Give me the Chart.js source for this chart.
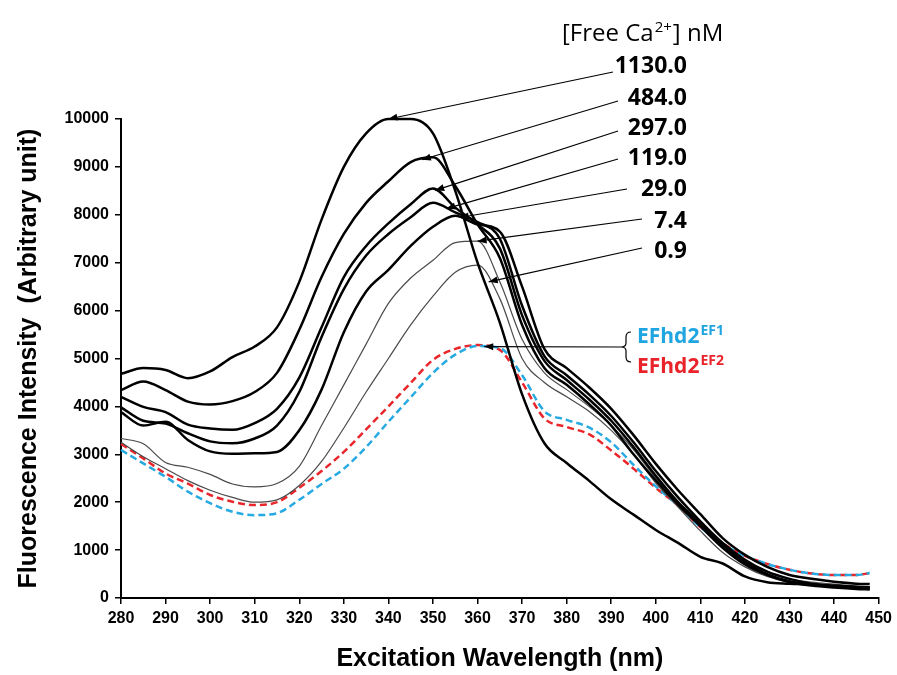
<!DOCTYPE html>
<html>
<head>
<meta charset="utf-8">
<script src="https://cdn.jsdelivr.net/npm/chart.js@4.4.1/dist/chart.umd.min.js"></script>
<style>
  html, body { margin: 0; padding: 0; background: #fff; }
  #wrap { width: 897px; height: 675px; }
</style>
</head>
<body>
<div id="wrap"><canvas id="chart" width="897" height="675"></canvas></div>
<script>
// excitation wavelength (nm)
const wavelengths = [280,285,290,295,300,305,310,315,320,325,330,335,340,345,350,355,360,365,370,375,380,385,390,395,400,405,410,415,420,425,430,435,440,445,448];

// fluorescence intensity per free Ca2+ concentration
const ca1130 = [4680,4800,4760,4590,4730,5030,5250,5650,6600,7900,9000,9700,10000,10000,9700,8500,7000,5750,4250,3230,2820,2450,2060,1740,1420,1150,860,720,450,330,300,280,250,230,220];
const ca484  = [4340,4520,4340,4100,4040,4110,4300,4700,5600,6700,7600,8250,8700,9100,9200,8600,7800,7100,5700,4800,4450,4050,3600,3000,2450,1950,1500,1050,700,480,330,260,220,190,180];
const ca297  = [4200,3990,3880,3620,3540,3510,3650,3950,4600,5650,6700,7350,7820,8220,8550,8150,7800,7300,5900,4950,4550,4150,3700,3150,2550,2000,1550,1100,750,500,350,280,240,210,200];
const ca119  = [3980,3700,3640,3440,3270,3230,3330,3600,4300,5450,6450,7150,7600,7950,8250,8050,7850,7500,6100,5050,4650,4250,3800,3250,2650,2100,1600,1150,800,550,400,300,260,230,220];
const ca29   = [3880,3600,3680,3300,3060,3010,3020,3050,3500,4350,5550,6400,6850,7350,7750,7980,7800,7650,6500,5200,4800,4400,3950,3400,2800,2250,1750,1250,900,650,480,400,340,300,290];
const ca7_4  = [3330,3220,2830,2730,2580,2380,2320,2390,2750,3600,4450,5300,6150,6680,7050,7420,7450,6600,5400,4700,4350,4000,3600,3100,2500,2000,1500,1050,750,550,400,330,290,250,240];
const ca0_9  = [3250,2950,2700,2450,2250,2100,2000,2050,2350,2850,3550,4300,5000,5700,6300,6800,6950,6250,5000,4500,4200,3900,3500,3000,2400,1900,1400,950,650,450,330,270,230,200,190];
const efhd2Ef1 = [3090,2810,2530,2220,1980,1800,1730,1770,2050,2380,2700,3150,3680,4190,4700,5080,5260,5220,4650,3900,3720,3560,3250,2780,2330,1930,1480,1120,880,710,590,510,480,480,520];
const efhd2Ef2 = [3215,2915,2600,2390,2150,2010,1940,2000,2300,2650,3050,3520,4000,4490,4970,5200,5280,5180,4500,3750,3570,3420,3080,2700,2300,1930,1480,1140,880,710,590,510,480,480,520];

const caLabels = ["1130.0","484.0","297.0","119.0","29.0","7.4","0.9"];
const caSeries = [ca1130, ca484, ca297, ca119, ca29, ca7_4, ca0_9];
// wavelength each arrow points at on its curve
const arrowNm = [340, 347.5, 350.5, 353, 356, 360, 362.5];

const xTicks = { min: 280, max: 450, step: 10 };
const yTicks = { min: 0, max: 10000, step: 1000 };

const toPoints = arr => arr.map((v, i) => ({ x: wavelengths[i], y: v }));

function valueAt(arr, nm) {
  for (let i = 0; i < wavelengths.length - 1; i++) {
    const a = wavelengths[i], b = wavelengths[i + 1];
    if (nm >= a && nm <= b) return arr[i] + (arr[i + 1] - arr[i]) * (nm - a) / (b - a);
  }
  return arr[arr.length - 1];
}

const FONT = "'Liberation Sans', Arial, sans-serif";
const LABEL_FONT = "'Open Sans', 'Noto Sans', sans-serif";

const datasets = caSeries.map((arr, i) => ({
  label: caLabels[i],
  data: toPoints(arr),
  borderColor: i >= 5 ? "#4a4a4a" : "#000",
  borderWidth: i >= 5 ? 1.2 : 2.5,
  pointRadius: 0,
  cubicInterpolationMode: "monotone",
  clip: false
}));
datasets.push({
  label: "EFhd2 EF1", data: toPoints(efhd2Ef1), borderColor: "#27a9e1", borderWidth: 2.5,
  borderDash: [7, 4], pointRadius: 0, cubicInterpolationMode: "monotone", clip: false
});
datasets.push({
  label: "EFhd2 EF2", data: toPoints(efhd2Ef2), borderColor: "#e8262b", borderWidth: 2.5,
  borderDash: [7, 4], pointRadius: 0, cubicInterpolationMode: "monotone", clip: false
});

function arrow(ctx, x1, y1, x2, y2) {
  ctx.beginPath();
  ctx.moveTo(x1, y1);
  ctx.lineTo(x2, y2);
  ctx.stroke();
  const ang = Math.atan2(y2 - y1, x2 - x1);
  const len = 9, half = 3.5;
  ctx.beginPath();
  ctx.moveTo(x2, y2);
  ctx.lineTo(x2 - len * Math.cos(ang) + half * Math.sin(ang), y2 - len * Math.sin(ang) - half * Math.cos(ang));
  ctx.lineTo(x2 - len * Math.cos(ang) - half * Math.sin(ang), y2 - len * Math.sin(ang) + half * Math.cos(ang));
  ctx.closePath();
  ctx.fill();
}

function textWithSup(ctx, base, sup, x, y, size, supSize, weight, color) {
  ctx.fillStyle = color;
  ctx.textAlign = "left";
  ctx.textBaseline = "alphabetic";
  ctx.font = `${weight} ${size}px ${LABEL_FONT}`;
  ctx.fillText(base, x, y);
  const w = ctx.measureText(base).width;
  ctx.font = `${weight} ${supSize}px ${LABEL_FONT}`;
  ctx.fillText(sup, x + w + 1, y - size * 0.36);
  return x + w + 1 + ctx.measureText(sup).width;
}

const annotations = {
  id: "annotations",
  afterDatasetsDraw(chart) {
    const { ctx, scales: { x, y } } = chart;
    ctx.save();

    // header
    let hx = textWithSup(ctx, "[Free Ca", "2+", 562, 41, 24, 15, "normal", "#000");
    ctx.font = `normal 24px ${LABEL_FONT}`;
    ctx.fillText("] nM", hx + 1, 41);

    // concentration labels and leader arrows
    const anchors = [[613, 72], [618, 101], [618, 131], [618, 159], [627, 189], [642, 219], [642, 248]];
    const textY = [73, 105, 135, 165, 196, 228, 258];
    ctx.strokeStyle = "#000";
    ctx.fillStyle = "#000";
    ctx.lineWidth = 1.2;
    caSeries.forEach((arr, i) => {
      const tx = x.getPixelForValue(arrowNm[i]);
      const ty = y.getPixelForValue(valueAt(arr, arrowNm[i]));
      arrow(ctx, anchors[i][0], anchors[i][1], tx, ty);
      ctx.font = `bold 23px ${LABEL_FONT}`;
      ctx.textAlign = "right";
      ctx.textBaseline = "alphabetic";
      ctx.fillText(caLabels[i], 687, textY[i]);
    });

    // EFhd2 bracket and arrow
    const ex = x.getPixelForValue(361.5);
    const ey = y.getPixelForValue(valueAt(efhd2Ef1, 361.5));
    arrow(ctx, 621, 347, ex, ey);
    ctx.beginPath();
    ctx.moveTo(631, 332);
    ctx.quadraticCurveTo(626, 332, 626, 337);
    ctx.lineTo(626, 343);
    ctx.quadraticCurveTo(626, 347, 621, 347);
    ctx.quadraticCurveTo(626, 347, 626, 351);
    ctx.lineTo(626, 357);
    ctx.quadraticCurveTo(626, 362, 631, 362);
    ctx.stroke();
    textWithSup(ctx, "EFhd2", "EF1", 637, 343, 21, 14, "bold", "#1fa5df");
    textWithSup(ctx, "EFhd2", "EF2", 637, 373, 21, 14, "bold", "#e8242a");

    ctx.restore();
  }
};

new Chart(document.getElementById("chart"), {
  type: "line",
  data: { datasets },
  options: {
    responsive: false,
    animation: false,
    layout: { padding: { top: 119, right: 17, bottom: 0, left: 0 } },
    plugins: { legend: { display: false }, tooltip: { enabled: false } },
    scales: {
      x: {
        type: "linear",
        min: xTicks.min, max: xTicks.max,
        ticks: { stepSize: xTicks.step, color: "#000", font: { family: FONT, size: 16, weight: "bold" }, padding: 5, maxRotation: 0, autoSkip: false },
        grid: { drawOnChartArea: false, drawTicks: true, tickLength: 6, color: "#000", lineWidth: 1.5 },
        border: { color: "#000", width: 2 },
        title: { display: true, text: "Excitation Wavelength (nm)", color: "#000", font: { family: FONT, size: 25, weight: "bold" }, padding: { top: 0, bottom: 1 } },
        afterFit: s => { s.height = 77; }
      },
      y: {
        min: yTicks.min, max: yTicks.max,
        ticks: { stepSize: yTicks.step, color: "#000", font: { family: FONT, size: 16, weight: "bold" }, padding: 6, format: { useGrouping: false } },
        grid: { drawOnChartArea: false, drawTicks: true, tickLength: 6, color: "#000", lineWidth: 1.5 },
        border: { color: "#000", width: 2 },
        title: { display: true, text: "Fluorescence Intensity  (Arbitrary unit)", color: "#000", font: { family: FONT, size: 25, weight: "bold" }, padding: { top: 14, bottom: 0 } },
        afterFit: s => { s.width = 121; }
      }
    }
  },
  plugins: [annotations]
});
</script>
</body>
</html>
